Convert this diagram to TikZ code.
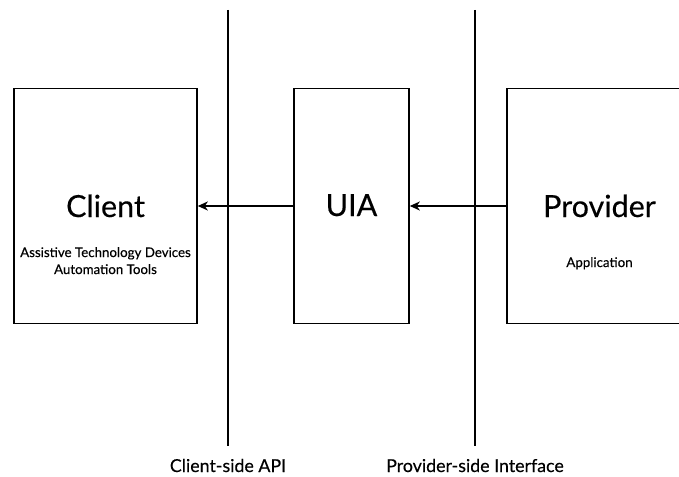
\documentclass[tikz,border=0pt]{standalone}
\usepackage{fontspec}
\setmainfont{Lato}[FakeBold=0.3]
\usetikzlibrary{arrows.meta}
\begin{document}
\begin{tikzpicture}[x=1pt,y=-1pt,
  box/.style={draw=black,line width=1.6pt,fill=white,inner sep=0pt},
  divider/.style={line width=2.2pt},
  flow/.style={line width=2pt,-{Stealth[length=10pt,width=9pt,inset=3pt]}},
  title/.style={anchor=base,inner sep=0pt,font=\fontsize{30.5}{32}\selectfont},
  sub/.style={anchor=base,inner sep=0pt,font=\fontsize{13.3}{15}\selectfont},
  caption/.style={anchor=base,inner sep=0pt,font=\fontsize{17.8}{20}\selectfont}]
  \clip (0,0) rectangle (679,476);
  \useasboundingbox (0,0) rectangle (679,476);
  \fill[white] (0,0) rectangle (679,476);

  % the two interface boundaries
  \coordinate (clientTop) at (228,10);
  \coordinate (clientBot) at (228,446);
  \coordinate (provTop) at (475,10);
  \coordinate (provBot) at (475,446);
  \draw[divider] (clientTop) -- (clientBot);
  \draw[divider] (provTop) -- (provBot);

  % the three components
  \node[box,minimum width=183pt,minimum height=235pt] (client) at (105.5,206) {};
  \node[box,minimum width=115pt,minimum height=235pt] (uia) at (351.5,206) {};
  \node[box,minimum width=185pt,minimum height=235pt] (provider) at (599.5,206) {};

  \node[title] (clientT) at (105.5,217) {Client};
  \node[sub] (clientS1) at (105.5,257) {Assistive Technology Devices};
  \node[sub] (clientS2) at (105.5,274) {Automation Tools};
  \node[title] (uiaT) at (351.5,216) {UIA};
  \node[title] (provT) at (599.5,217) {Provider};
  \node[sub] (provS) at (599.5,267) {Application};

  % data flows towards the client
  \draw[flow] (uia.west) -- (client.east);
  \draw[flow] (provider.west) -- (uia.east);

  % boundary captions
  \node[caption] (capClient) at (228,472) {Client-side API};
  \node[caption] (capProv) at (475,472) {Provider-side Interface};
\end{tikzpicture}
\end{document}
